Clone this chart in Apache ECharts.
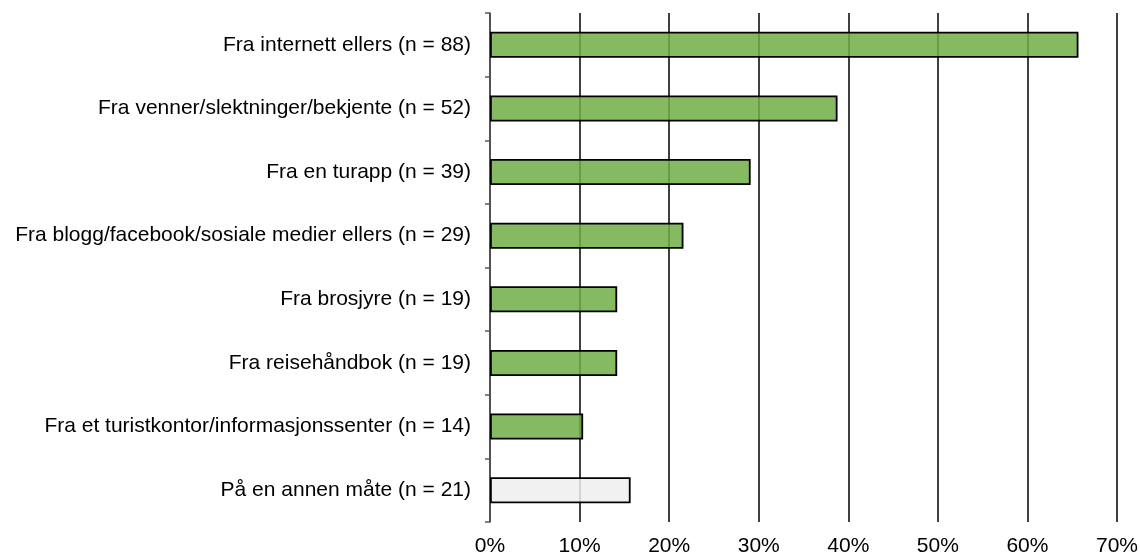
<!DOCTYPE html>
<html>
<head>
<meta charset="utf-8">
<script src="https://cdn.jsdelivr.net/npm/echarts@6/dist/echarts.min.js"></script>
<style>
html, body { margin: 0; padding: 0; background: #fff; }
#chart { width: 1140px; height: 555px; }
</style>
</head>
<body>
<div id="chart"></div>
<script>
// kategorier, topp til bunn
var categories = [
    'Fra internett ellers (n = 88)',
    'Fra venner/slektninger/bekjente (n = 52)',
    'Fra en turapp (n = 39)',
    'Fra blogg/facebook/sosiale medier ellers (n = 29)',
    'Fra brosjyre (n = 19)',
    'Fra reisehåndbok (n = 19)',
    'Fra et turistkontor/informasjonssenter (n = 14)',
    'På en annen måte (n = 21)'
];
// andel i prosent
var values = [65.7, 38.8, 29.1, 21.6, 14.2, 14.2, 10.4, 15.7];
var xTicks = [0, 10, 20, 30, 40, 50, 60, 70];

var chart = echarts.init(document.getElementById('chart'));

var data = values.map(function (v, i) {
    var last = i === values.length - 1;
    return {
        value: v,
        itemStyle: {
            color: last ? 'rgba(238,238,238,0.85)' : 'rgba(112,173,71,0.85)'
        }
    };
});

var option = {
    animation: false,
    textStyle: { fontFamily: 'Liberation Sans, Arial, sans-serif' },
    grid: {
        left: 490,
        right: 23,
        top: 13,
        bottom: 33,
        containLabel: false,
        outerBoundsMode: 'none'
    },
    xAxis: {
        type: 'value',
        min: xTicks[0],
        max: xTicks[xTicks.length - 1],
        interval: 10,
        axisLine: { show: false },
        axisTick: { show: false },
        splitLine: { lineStyle: { color: '#000', width: 1.5 } },
        axisLabel: {
            formatter: '{value}%',
            color: '#000',
            fontSize: 21,
            margin: 14
        }
    },
    yAxis: {
        type: 'category',
        inverse: true,
        data: categories,
        axisLine: { lineStyle: { color: '#595959', width: 1.5 } },
        axisTick: { show: true, length: 5, lineStyle: { color: '#595959', width: 1.5 } },
        axisLabel: {
            color: '#000',
            fontSize: 21,
            margin: 19
        }
    },
    series: [
        {
            type: 'bar',
            data: data,
            barWidth: '41%',
            itemStyle: { borderColor: '#000', borderWidth: 1.8 }
        }
    ]
};
chart.setOption(option);
</script>
</body>
</html>
